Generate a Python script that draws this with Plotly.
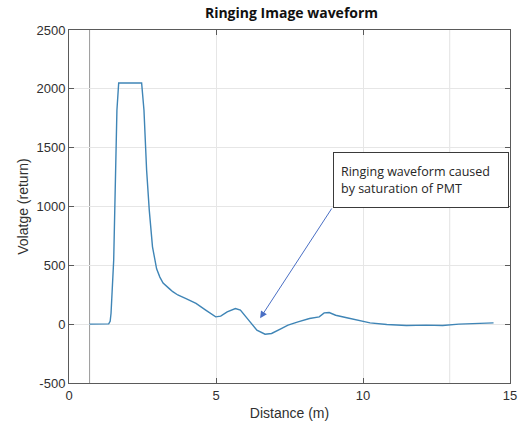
import plotly.graph_objects as go

# Waveform samples: distance (m) and voltage (return)
distance = [0.70, 1.00, 1.35, 1.40, 1.43, 1.52, 1.58, 1.63, 1.69, 2.47, 2.55, 2.64,
            2.73, 2.84, 2.98, 3.09, 3.20, 3.32, 3.42, 3.53, 3.70, 3.98, 4.32, 4.65,
            4.85, 4.99, 5.16, 5.38, 5.66, 5.83, 6.11, 6.39, 6.67, 6.89, 7.22, 7.45,
            7.79, 8.18, 8.51, 8.68, 8.85, 9.07, 9.41, 9.80, 10.24, 10.81, 11.48,
            12.15, 12.71, 13.26, 13.83, 14.44]
voltage = [0, 0, 2, 25, 93, 544, 1393, 1818, 2050, 2050, 1818, 1308,
           969, 657, 470, 400, 350, 318, 300, 276, 248, 218, 176, 119,
           85, 62, 68, 105, 133, 119, 34, -51, -85, -79, -37, -8,
           20, 48, 62, 96, 99, 76, 57, 34, 11, -3, -11,
           -8, -11, 0, 6, 11]

# Reference verticals drawn across the axes
marker_lines = [0.70, 12.95]
marker_colors = ["#9a9a9a", "#e2e2e2"]

x_ticks = [0, 5, 10, 15]
y_ticks = [-500, 0, 500, 1000, 1500, 2000, 2500]
y_tick_text = ["-500", "0", "500", "1000", "1500", "2000", "2500"]

# Callout pointing at the ringing dip (tail at the box corner, head at the dip)
note_text = "Ringing waveform caused<br>by saturation of PMT"
note_target = (6.5, 50)
note_tail = (8.97, 996)

fig = go.Figure()

for xv, col in zip(marker_lines, marker_colors):
    fig.add_shape(type="line", xref="x", yref="paper", x0=xv, x1=xv, y0=0, y1=1,
                  line=dict(color=col, width=1), layer="below")

fig.add_trace(go.Scatter(
    x=distance, y=voltage, mode="lines",
    line=dict(color="#3f85b6", width=1.4),
    showlegend=False, hoverinfo="skip",
))

fig.add_annotation(
    x=note_target[0], y=note_target[1], xref="x", yref="y",
    ax=note_tail[0], ay=note_tail[1], axref="x", ayref="y",
    text="", showarrow=True, arrowhead=2, arrowsize=1.4, arrowwidth=1,
    arrowcolor="#4a6fc4",
)
fig.add_annotation(
    x=(335 - 69) / (514 - 69), y=1 - (152 - 30) / (383 - 30),
    xref="paper", yref="paper", xanchor="left", yanchor="top",
    text=note_text, showarrow=False, align="left",
    font=dict(family="Open Sans", size=12.5, color="#262626"),
    bordercolor="#3a3a3a", borderwidth=1, borderpad=7,
    bgcolor="white", width=160, height=40,
)

axis_common = dict(
    showline=True, linecolor="#5a5a5a", linewidth=1, mirror="ticks",
    ticks="inside", ticklen=5, tickcolor="#5a5a5a",
    showgrid=True, gridcolor="#e6e6e6", gridwidth=1, zeroline=False,
    tickfont=dict(family="Liberation Sans", size=13, color="#303030"),
)

fig.update_layout(
    width=529, height=433,
    margin=dict(l=69, r=15, t=30, b=50),
    paper_bgcolor="white", plot_bgcolor="white",
    title=dict(text="<b>Ringing Image waveform</b>", x=(69 + 514) / 2 / 529,
               xanchor="center", y=1 - 13 / 433, yanchor="middle",
               font=dict(family="Open Sans", size=14, color="#111111")),
    xaxis=dict(range=[0, 15], tickvals=x_ticks, **axis_common,
               title=dict(text="Distance (m)", standoff=6,
                          font=dict(family="Liberation Sans", size=14, color="#303030"))),
    yaxis=dict(range=[-500, 2500], tickvals=y_ticks, ticktext=y_tick_text, **axis_common,
               title=dict(text="Volatge (return)", standoff=4,
                          font=dict(family="Liberation Sans", size=14, color="#303030"))),
)

fig.write_html("out.html")
